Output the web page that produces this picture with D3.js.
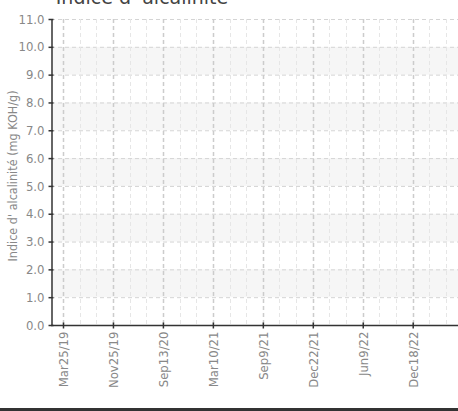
<!DOCTYPE html>
<html>
<head>
<meta charset="utf-8">
<script src="https://cdn.jsdelivr.net/npm/d3@7"></script>
<style>
  body { margin: 0; background: #fff; }
  .cond { font-family: "Liberation Sans Narrow", "DejaVu Sans Condensed", sans-serif; }
</style>
</head>
<body>
<div id="chart-Div"></div>
<script>
let width = 458, height = 411;

// dates of the samples (only every third one is labelled on the axis)
let categories = ['Mar25/19', 'Jun10/19', 'Aug28/19', 'Nov25/19', 'Feb20/20', 'May30/20',
    'Sep13/20', 'Nov20/20', 'Jan14/21', 'Mar10/21', 'May18/21', 'Jul12/21',
    'Sep9/21', 'Oct20/21', 'Nov30/21', 'Dec22/21', 'Feb16/22', 'Apr12/22',
    'Jun9/22', 'Aug15/22', 'Oct20/22', 'Dec18/22', 'Feb10/23', 'Apr5/23'];
let tickLabels = ['Mar25/19', 'Nov25/19', 'Sep13/20', 'Mar10/21', 'Sep9/21', 'Dec22/21', 'Jun9/22', 'Dec18/22'];
let yTicks = [0, 1, 2, 3, 4, 5, 6, 7, 8, 9, 10, 11];
let values = []; // no measurement plotted
let title = "Indice d' alcalinité";
let yTitle = "Indice d' alcalinité (mg KOH/g)";

let svg = d3.select('#chart-Div')
    .append('svg')
    .attr('width', width)
    .attr('height', height);

let plotLeft = 51, plotTop = 19, plotBottom = 325;

let xScale = d3.scalePoint()
    .domain(categories)
    .range([plotLeft - 1, 459])
    .padding(0.78);
let yScale = d3.scaleLinear()
    .domain([0, 11])
    .range([plotBottom, plotTop]);

// alternating bands
svg.append('g').selectAll('rect')
    .data(yTicks.filter(d => d % 2 === 1 && d < 11))
    .join('rect')
    .attr('x', plotLeft)
    .attr('width', width - plotLeft)
    .attr('y', d => yScale(d + 1))
    .attr('height', d => yScale(d) - yScale(d + 1))
    .attr('fill', '#f6f6f6');

// horizontal grid
svg.append('g').selectAll('line')
    .data(yTicks.slice(1))
    .join('line')
    .attr('x1', plotLeft).attr('x2', width)
    .attr('y1', d => yScale(d) + 0.5).attr('y2', d => yScale(d) + 0.5)
    .attr('stroke', '#d4d4d4')
    .attr('stroke-dasharray', '4,3');

// vertical grid
svg.append('g').selectAll('line')
    .data(categories)
    .join('line')
    .attr('x1', d => Math.round(xScale(d)) + 0.5).attr('x2', d => Math.round(xScale(d)) + 0.5)
    .attr('y1', plotTop).attr('y2', plotBottom)
    .attr('stroke', d => tickLabels.includes(d) ? '#cccccc' : '#e6e6e6')
    .attr('stroke-width', d => tickLabels.includes(d) ? 1.5 : 1)
    .attr('stroke-dasharray', '4,3');

// y axis
let yAxis = svg.append('g')
    .attr('class', 'cond')
    .attr('transform', `translate(${plotLeft + 0.5},0)`)
    .call(d3.axisLeft(yScale).tickValues(yTicks).tickFormat(d3.format('.1f')).tickSizeInner(3).tickSizeOuter(0).tickPadding(4));
yAxis.select('.domain').attr('stroke', '#333').attr('stroke-width', 1.5);
yAxis.selectAll('.tick line').attr('stroke', '#333').attr('x2', -3).attr('x1', 2).attr('stroke-width', 1.5);
yAxis.selectAll('.tick text').attr('fill', '#888').style('font-size', '13px');

// x axis
let xAxis = svg.append('g')
    .attr('class', 'cond')
    .attr('transform', `translate(0,${plotBottom + 0.5})`)
    .call(d3.axisBottom(xScale).tickValues(tickLabels).tickSizeInner(3).tickSizeOuter(0).tickPadding(6));
xAxis.select('.domain').attr('stroke', '#333').attr('stroke-width', 1.5)
    .attr('d', `M${plotLeft},0H${width}`);
xAxis.selectAll('.tick line').attr('stroke', '#333').attr('y1', -3).attr('y2', 3).attr('stroke-width', 1.5);
xAxis.selectAll('.tick text')
    .attr('fill', '#888')
    .style('font-size', '13px')
    .attr('text-anchor', 'end')
    .attr('dy', '0.35em')
    .attr('transform', 'translate(0,6) rotate(-90)')
    .attr('x', 0).attr('y', 0);

// series (empty)
svg.append('g').selectAll('circle')
    .data(values)
    .join('circle')
    .attr('cx', d => xScale(d.date))
    .attr('cy', d => yScale(d.value))
    .attr('r', 3);

// titles
svg.append('text')
    .attr('x', 142).attr('y', 4)
    .attr('text-anchor', 'middle')
    .attr('fill', '#444')
    .style('font-family', 'DejaVu Sans, sans-serif')
    .style('font-size', '19px')
    .text(title);

svg.append('text')
    .attr('class', 'cond')
    .attr('transform', 'translate(17,176) rotate(-90)')
    .attr('text-anchor', 'middle')
    .attr('fill', '#888')
    .style('font-size', '12.5px')
    .text(yTitle);

// bottom border
svg.append('rect')
    .attr('x', 0).attr('y', 408)
    .attr('width', width).attr('height', 3)
    .attr('fill', '#333');
</script>
</body>
</html>
